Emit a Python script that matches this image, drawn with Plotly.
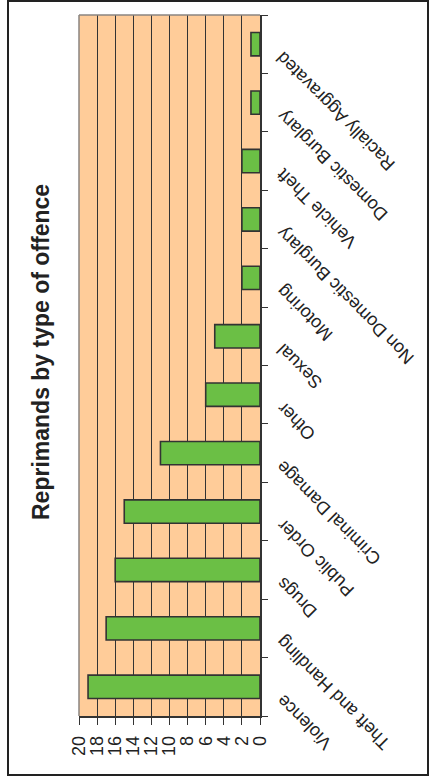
import plotly.graph_objects as go

# Reprimands by type of offence (bottom to top)
categories = [
    "Violence", "Theft and Handling", "Drugs", "Public Order",
    "Criminal Damage", "Other", "Sexual", "Motoring",
    "Non Domestic Burglary", "Vehicle Theft", "Domestic Burglary",
    "Racially Aggravated",
]
reprimands = [19, 17, 16, 15, 11, 6, 5, 2, 2, 2, 1, 1]
value_ticks = [0, 2, 4, 6, 8, 10, 12, 14, 16, 18, 20]

W, H = 435, 778
PL, PR, PT, PB = 79, 260, 15, 716  # plot area in pixels


def px_x(p):
    return (p - PL) / (PR - PL)


def px_y(p):
    return (PB - p) / (PB - PT)


FONT = "Liberation Sans, Arial, sans-serif"
INK = "#222222"

fig = go.Figure()
fig.add_trace(go.Bar(
    x=reprimands,
    y=categories,
    orientation="h",
    marker=dict(color="#6BBF45", line=dict(color="#333333", width=1.6)),
    hoverinfo="x+y",
))

# category labels, drawn upside-down along the right side
annotations = []
for name in categories:
    annotations.append(dict(
        text=name, x=1, xref="paper", y=name, yref="y",
        xanchor="left", yanchor="top", textangle=-135,
        xshift=10, yshift=-1, showarrow=False,
        font=dict(family=FONT, size=18, color=INK),
    ))

annotations.append(dict(
    text="<b>Reprimands by type of offence</b>",
    x=px_x(41), xref="paper", y=px_y(352), yref="paper",
    xanchor="center", yanchor="middle", textangle=-90, showarrow=False,
    font=dict(family=FONT, size=23, color="#222222"),
))

shapes = [
    # outer chart frame
    dict(type="rect", xref="paper", yref="paper",
         x0=px_x(8), x1=px_x(428), y0=px_y(775), y1=px_y(1),
         line=dict(color="#222222", width=2), layer="above"),
    # plot-area border (top and left)
    dict(type="line", xref="paper", yref="paper", x0=0, x1=1, y0=1, y1=1,
         line=dict(color="#8a8480", width=1.5), layer="above"),
    dict(type="line", xref="paper", yref="paper", x0=0, x1=0, y0=0, y1=1,
         line=dict(color="#8a8480", width=1.5), layer="above"),
]

fig.update_layout(
    width=W, height=H,
    margin=dict(l=PL, r=W - PR, t=PT, b=H - PB, pad=0),
    paper_bgcolor="white",
    plot_bgcolor="#FFCC99",
    bargap=0.6,
    showlegend=False,
    annotations=annotations,
    shapes=shapes,
    font=dict(family=FONT, color=INK),
)

fig.update_xaxes(
    range=[20, 0],
    tickmode="array", tickvals=value_ticks,
    ticktext=[str(v) for v in value_ticks],
    tickangle=-90,
    tickfont=dict(family=FONT, size=18, color=INK),
    ticks="outside", ticklen=7, tickwidth=1.4, tickcolor="#333333",
    ticklabelstandoff=4,
    showgrid=True, gridcolor="#333333", gridwidth=1.4,
    zeroline=False,
    showline=True, linecolor="#333333", linewidth=1.6,
    fixedrange=True,
)

fig.update_yaxes(
    side="right",
    categoryorder="array", categoryarray=categories,
    range=[-0.5, len(categories) - 0.5], autorange=False,
    showticklabels=False,
    ticks="outside", tickson="boundaries", ticklen=6, tickwidth=1.4,
    tickcolor="#333333",
    showgrid=False, zeroline=False,
    showline=True, linecolor="#333333", linewidth=1.6,
    fixedrange=True,
)

fig.write_html("out.html")
